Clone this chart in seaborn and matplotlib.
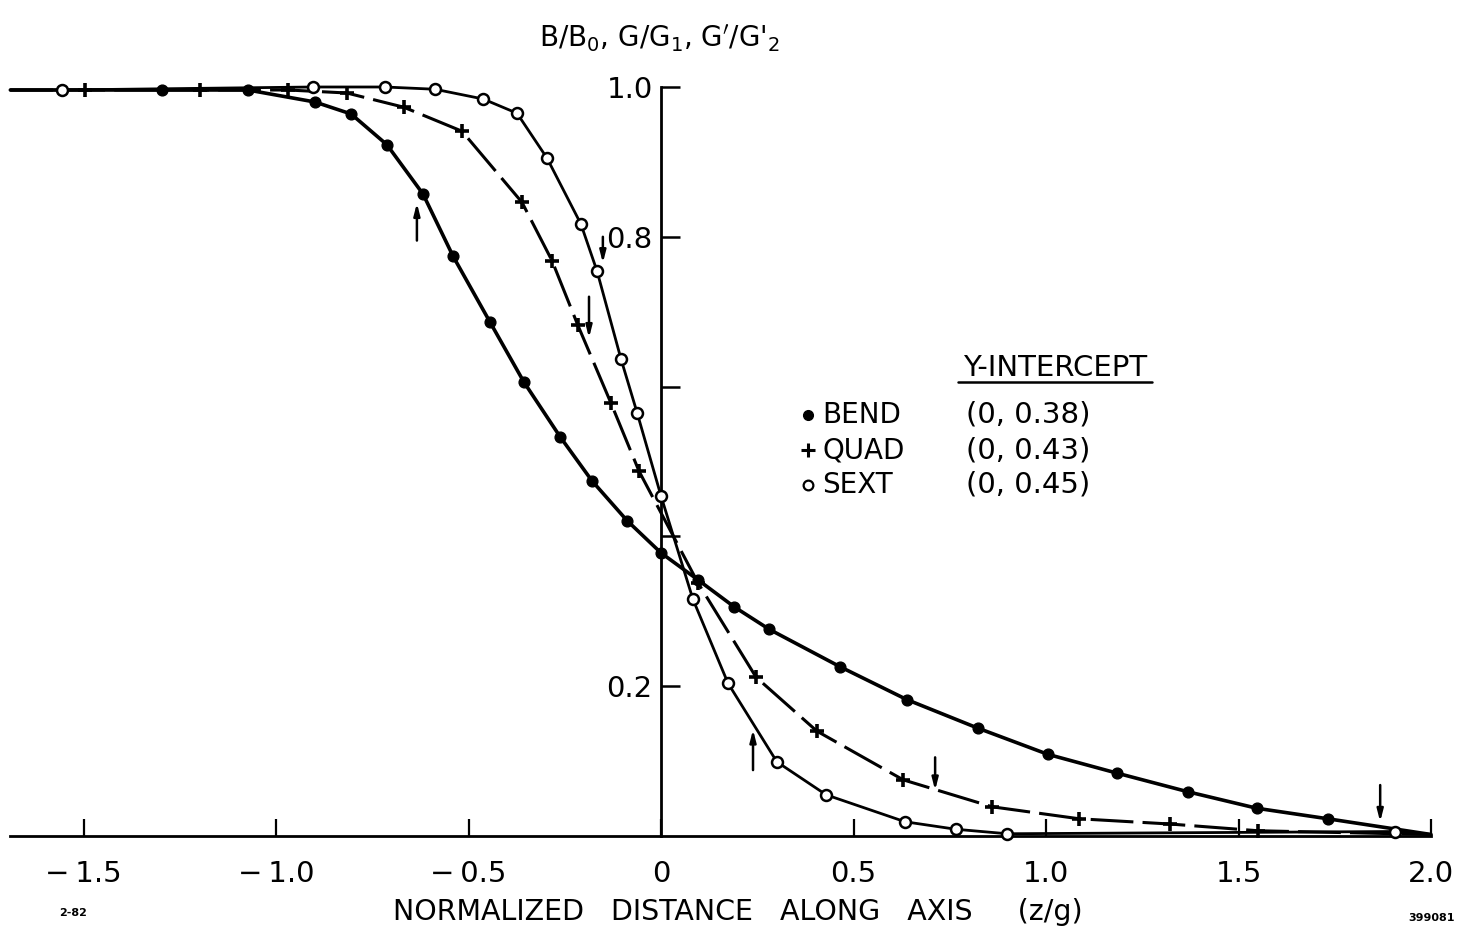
import numpy as np
import pandas as pd
import matplotlib
matplotlib.use("Agg")
import matplotlib.pyplot as plt
from matplotlib.lines import Line2D
import seaborn as sns

# ---------------- data ----------------
bend_x = [-1.556, -1.296, -1.073, -0.899, -0.805, -0.712, -0.618, -0.540, -0.444,
          -0.356, -0.262, -0.179, -0.088, 0.0, 0.096, 0.190, 0.281, 0.465, 0.639,
          0.823, 1.005, 1.184, 1.369, 1.548, 1.732]
bend_y = [0.996, 0.996, 0.996, 0.980, 0.964, 0.923, 0.857, 0.774, 0.686,
          0.606, 0.533, 0.474, 0.421, 0.378, 0.342, 0.306, 0.276, 0.226, 0.182,
          0.144, 0.109, 0.084, 0.059, 0.037, 0.023]

quad_x = [-1.496, -1.197, -0.969, -0.816, -0.668, -0.517, -0.361, -0.283, -0.216,
          -0.130, -0.057, 0.096, 0.247, 0.405, 0.629, 0.860, 1.086, 1.322, 1.551]
quad_y = [0.996, 0.996, 0.996, 0.992, 0.973, 0.941, 0.846, 0.768, 0.682,
          0.578, 0.487, 0.338, 0.212, 0.140, 0.075, 0.039, 0.023, 0.016, 0.007]

sext_x = [-1.556, -0.904, -0.717, -0.587, -0.462, -0.374, -0.296, -0.208, -0.166,
          -0.104, -0.062, 0.0, 0.083, 0.174, 0.301, 0.429, 0.634, 0.766, 0.899, 1.906]
sext_y = [0.996, 1.0, 1.0, 0.997, 0.984, 0.965, 0.905, 0.817, 0.754,
          0.637, 0.565, 0.454, 0.316, 0.204, 0.099, 0.055, 0.019, 0.009, 0.003, 0.006]

# curve ends (the hand-drawn curves run past the measured points)
curve_start = (-1.69, 0.996)
curve_end = (2.0, 0.002)

# vertical arrows marking points on the curves
arrow_x = [-0.634, -0.151, -0.187, 0.239, 0.712, 1.868]
arrow_tail = [0.795, 0.800, 0.720, 0.088, 0.105, 0.068]
arrow_tip = [0.845, 0.765, 0.665, 0.142, 0.061, 0.019]

x_ticks = [-1.5, -1.0, -0.5, 0.0, 0.5, 1.0, 1.5, 2.0]
x_tick_labels = ["\u2212\u20091.5", "\u2212\u20091.0", "\u2212\u20090.5", "0",
                 "0.5", "1.0", "1.5", "2.0"]
y_ticks = [0.2, 0.4, 0.6, 0.8, 1.0]
y_tick_labels = ["0.2", "", "", "0.8", "1.0"]

legend_names = ["BEND", "QUAD", "SEXT"]
legend_intercepts = ["(0, 0.38)", "(0, 0.43)", "(0, 0.45)"]

# ---------------- style ----------------
sns.set_style("white")
plt.rcParams["font.family"] = ["DejaVu Sans"]
plt.rcParams["mathtext.fontset"] = "dejavusans"
plt.rcParams["text.color"] = "black"

W, H = 1469, 939
fig = plt.figure(figsize=(W / 100, H / 100), dpi=100)
ax = fig.add_axes([0, 0, 1, 1])
# pixel mapping: x=0 at px 661, 385 px/unit ; y=0 at py 836, 749 px/unit
ax.set_xlim((0 - 661) / 385, (W - 661) / 385)
ax.set_ylim((836 - H) / 749, 836 / 749)
ax.set_facecolor("white")

def curve(xs, ys):
    return pd.DataFrame({"x": [curve_start[0]] + list(xs) + [curve_end[0]],
                         "y": [curve_start[1]] + list(ys) + [curve_end[1]]})

# lines
sns.lineplot(data=curve(bend_x, bend_y), x="x", y="y", sort=False, ax=ax,
             color="black", lw=2.6, estimator=None)
sns.lineplot(data=curve(quad_x, quad_y), x="x", y="y", sort=False, ax=ax,
             color="black", lw=2.2, estimator=None)
ax.lines[-1].set_dashes((14, 3))
sns.lineplot(data=curve(sext_x, sext_y), x="x", y="y", sort=False, ax=ax,
             color="black", lw=2.0, estimator=None)

# markers
sns.scatterplot(x=bend_x, y=bend_y, ax=ax, marker="o", s=60, color="black",
                edgecolor="black", linewidth=1, zorder=5)
sns.scatterplot(x=quad_x, y=quad_y, ax=ax, marker="+", s=105, color="black",
                linewidth=2.6, zorder=5)
sns.scatterplot(x=sext_x, y=sext_y, ax=ax, marker="o", s=62, facecolor="white",
                edgecolor="black", linewidth=1.8, zorder=6)

# arrows
for xa, t0, t1 in zip(arrow_x, arrow_tail, arrow_tip):
    ax.annotate("", xy=(xa, t1), xytext=(xa, t0),
                arrowprops=dict(arrowstyle="-|>,head_length=0.7,head_width=0.18",
                                lw=1.8, color="black", shrinkA=0, shrinkB=0),
                zorder=7)

# axes through the origin
for s in ["top", "right"]:
    ax.spines[s].set_visible(False)
ax.spines["left"].set_position(("data", 0))
ax.spines["bottom"].set_position(("data", 0))
ax.spines["left"].set_bounds(0, 1.0)
ax.spines["bottom"].set_bounds(-1.69, 2.0)
for s in ["left", "bottom"]:
    ax.spines[s].set_linewidth(2.0)
    ax.spines[s].set_color("black")
    ax.spines[s].set_zorder(3)

ax.set_xticks(x_ticks)
ax.set_xticklabels(x_tick_labels)
ax.set_yticks(y_ticks)
ax.set_yticklabels(y_tick_labels)
ax.tick_params(axis="x", direction="in", length=12, width=1.6, pad=17,
               labelsize=21, colors="black", bottom=True)
ax.tick_params(axis="y", direction="in", length=14, width=1.8, pad=6,
               labelsize=21, colors="black", left=True)
ax.set_xlabel("")
ax.set_ylabel("")

def fx(px):
    return px / W

def fy(py):
    return 1 - py / H

# axis titles
fig.text(fx(660), fy(38), r"B/B$_0$, G/G$_1$, G$'$/G$'_2$", ha="center", va="center",
         fontsize=20)
fig.text(fx(738), fy(912), "NORMALIZED   DISTANCE   ALONG   AXIS     (z/g)",
         ha="center", va="center", fontsize=20.5)
fig.text(fx(73), fy(913), "2-82", ha="center", va="center", fontsize=8,
         fontweight="bold")
fig.text(fx(1432), fy(918), "399081", ha="center", va="center", fontsize=8,
         fontweight="bold")

# legend block
fig.text(fx(1055), fy(368), "Y-INTERCEPT", ha="center", va="center", fontsize=21)
fig.add_artist(Line2D([fx(958), fx(1152)], [fy(382), fy(382)], color="black", lw=1.8))
rows_y = [415, 450, 485]
marker_styles = [dict(marker="o", ms=7, mfc="black", mec="black"),
                 dict(marker="+", ms=10, mew=2.2, color="black"),
                 dict(marker="o", ms=7, mfc="white", mec="black", mew=1.6)]
for ry, name, icpt, ms in zip(rows_y, legend_names, legend_intercepts, marker_styles):
    fig.add_artist(Line2D([fx(808)], [fy(ry)], linestyle="none", **ms))
    fig.text(fx(822), fy(ry), name, ha="left", va="center", fontsize=20)
    fig.text(fx(966), fy(ry), icpt, ha="left", va="center", fontsize=21)

fig.savefig("out.png", dpi=100, facecolor="white")
